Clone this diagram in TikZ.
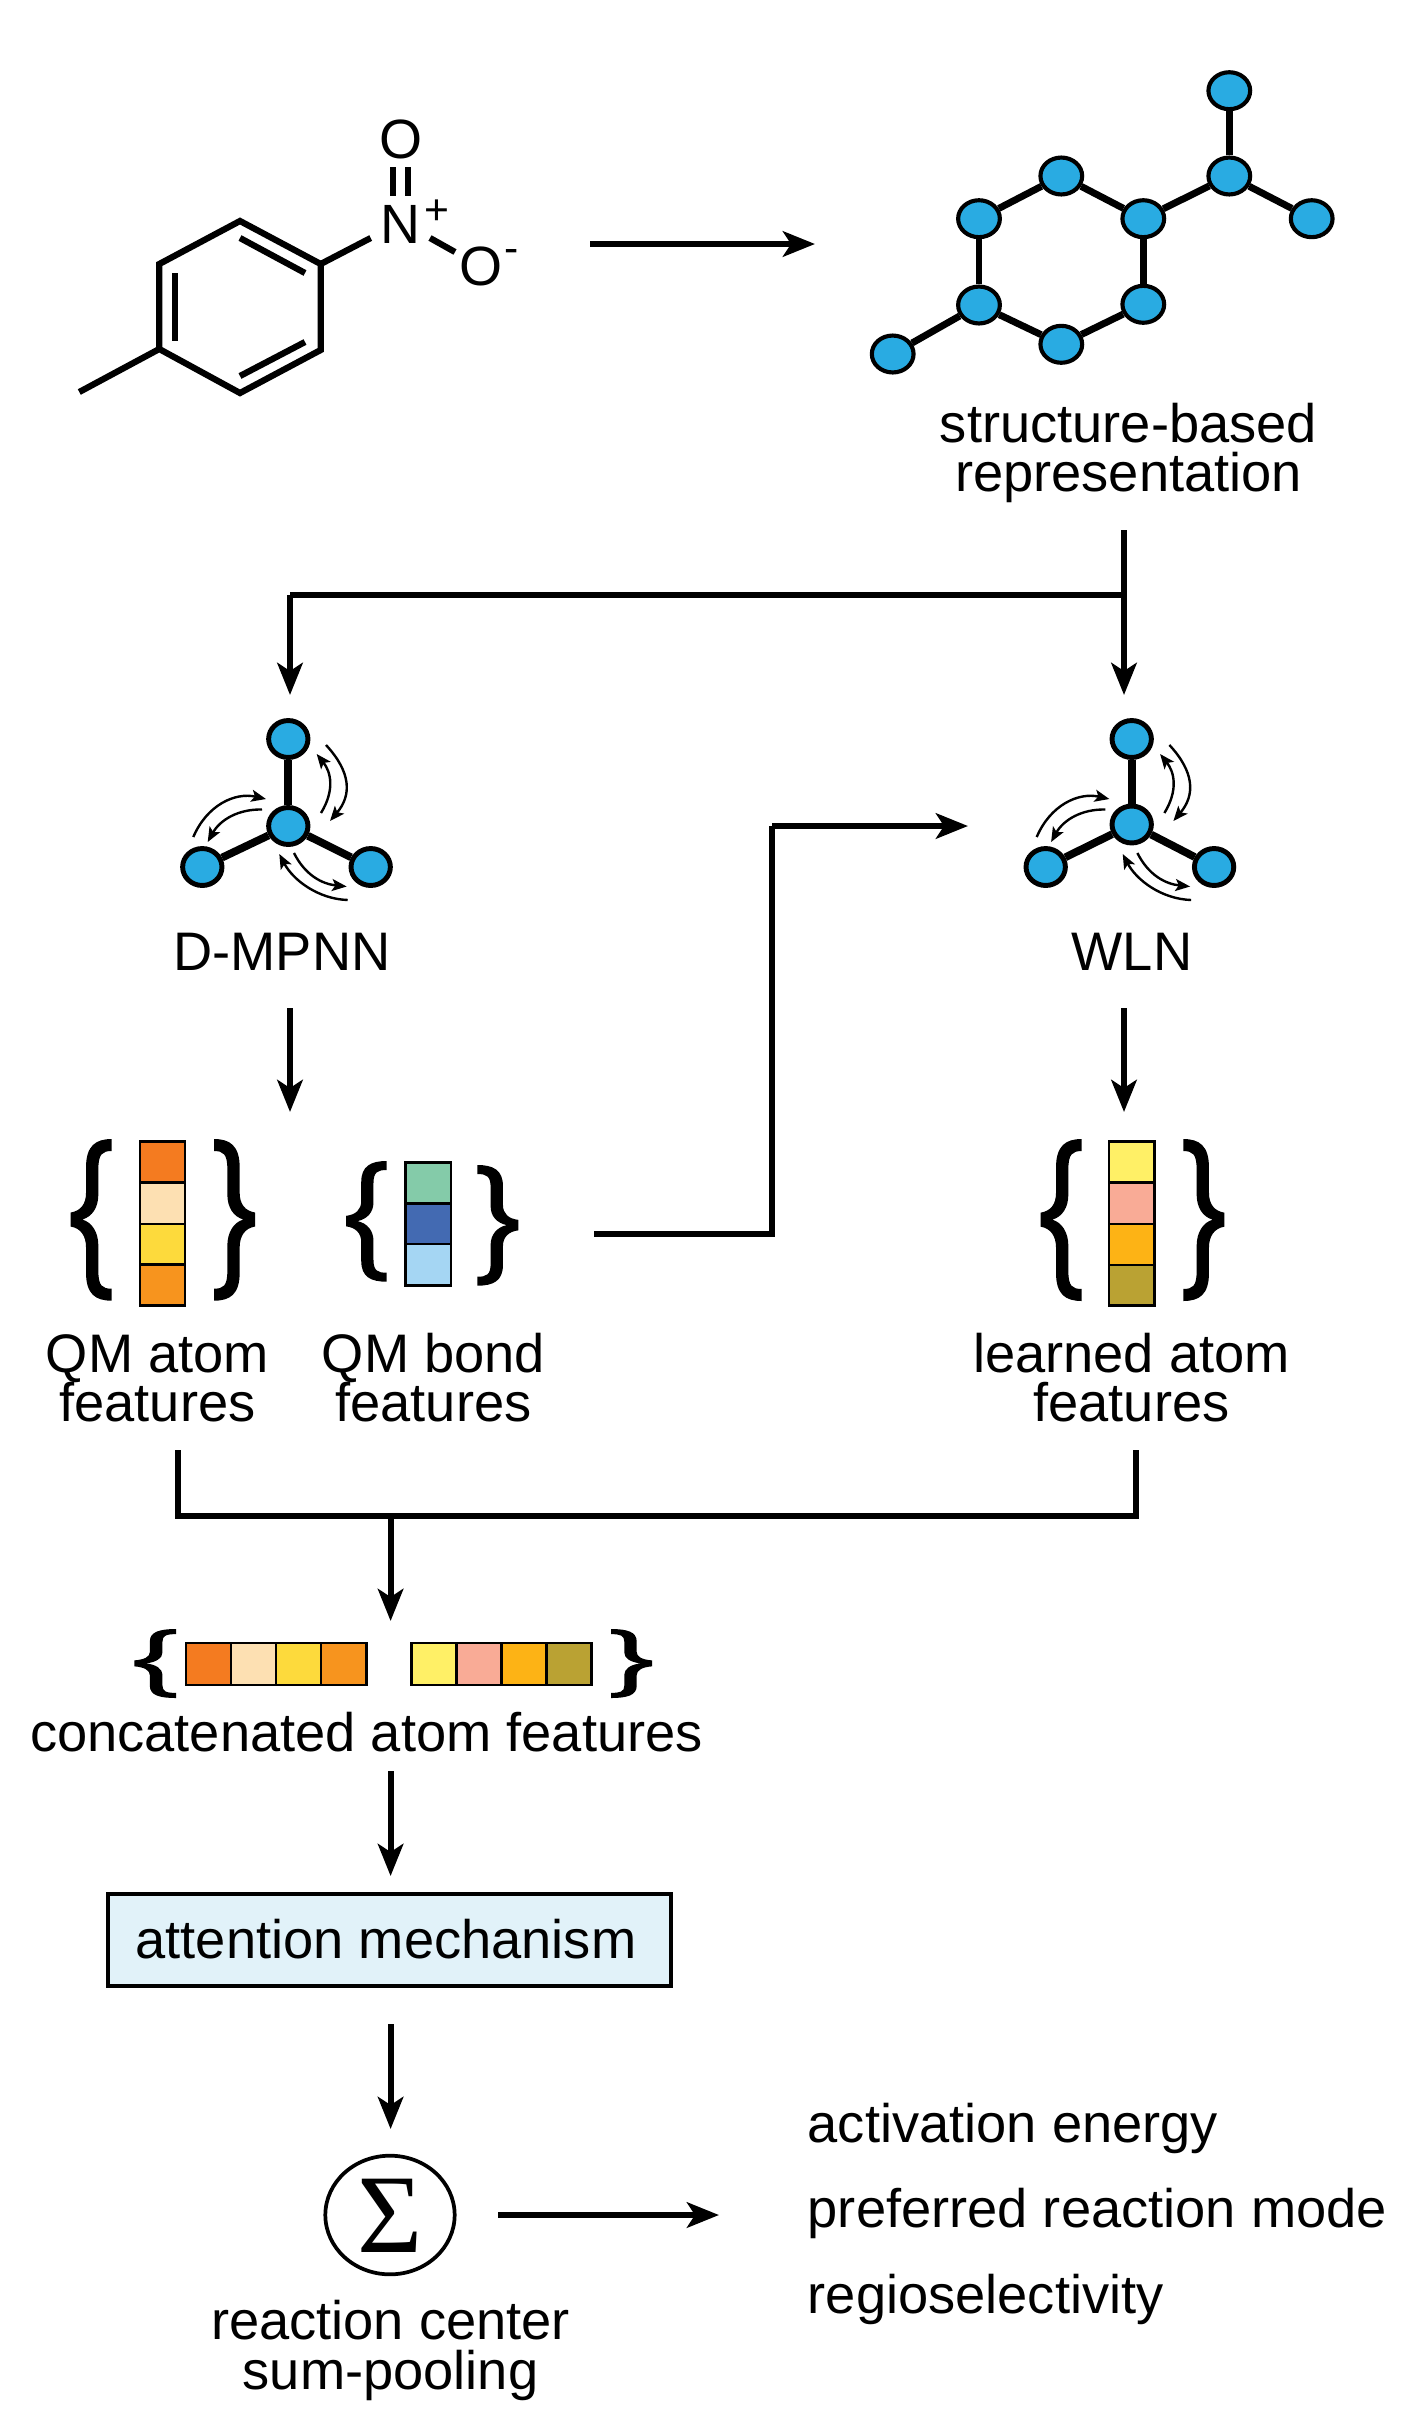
\documentclass[tikz,border=0pt]{standalone}
\usepackage{fontspec}
\setmainfont{Liberation Sans}
\newfontfamily\sigmafont{Liberation Serif}
\usetikzlibrary{arrows.meta,shapes.geometric}
\definecolor{atomblue}{HTML}{29ABE2}
\definecolor{qmA}{HTML}{F47B20}
\definecolor{qmB}{HTML}{FDE0B2}
\definecolor{qmC}{HTML}{FDDA3C}
\definecolor{qmD}{HTML}{F7941E}
\definecolor{qmE}{HTML}{84CBA9}
\definecolor{qmF}{HTML}{436AB2}
\definecolor{qmG}{HTML}{A5D6F3}
\definecolor{lnA}{HTML}{FFF066}
\definecolor{lnB}{HTML}{F9AB96}
\definecolor{lnC}{HTML}{FDB315}
\definecolor{lnD}{HTML}{BAA233}
\definecolor{boxblue}{HTML}{E1F2F9}
\tikzset{
  x=0.75pt, y=-0.75pt,
  atom/.style={ellipse, draw=black, fill=atomblue, line width=3.1pt, inner sep=0pt, minimum width=31.3pt, minimum height=27.7pt},
  miniatom/.style={atom, line width=3.7pt, minimum width=29.5pt, minimum height=27.7pt},
  bond/.style={line width=5.2pt},
  minibond/.style={line width=5.8pt},
  skeleton/.style={line width=4.7pt, line cap=butt},
  flow/.style={line width=4.6pt, -{Stealth[length=24pt,width=19pt,inset=6pt]}},
  flowline/.style={line width=4.6pt},
  swirl/.style={line width=1.8pt, -{Stealth[length=11pt,width=9pt,inset=2.5pt]}},
  label/.style={anchor=base, font=\fontsize{40.7pt}{45pt}\selectfont, inner sep=0pt},
  leftlabel/.style={label, anchor=base west},
  cell/.style={draw=black, line width=2.1pt},
}
% Curly brace outline in a 123 by 484 box
\newcommand{\braceglyph}{
  \fill (123,0) .. controls (75,0) and (46,20) .. (46,85) -- (46,160)
    .. controls (46,195) and (30,215) .. (0,220) -- (0,262)
    .. controls (30,267) and (46,290) .. (46,325) -- (46,400)
    .. controls (46,465) and (75,484) .. (123,484) -- (123,448)
    .. controls (95,448) and (83,440) .. (83,395) -- (83,320)
    .. controls (83,280) and (65,250) .. (35,241)
    .. controls (65,232) and (83,205) .. (83,165) -- (83,90)
    .. controls (83,45) and (95,36) .. (123,36) -- cycle;
}
% \lbraceat{left}{top}{width}{height} and \rbraceat mirror it
\newcommand{\lbraceat}[4]{\begin{scope}[shift={(#1,#2)},xscale=#3/123,yscale=#4/484]\braceglyph\end{scope}}
\newcommand{\rbraceat}[4]{\begin{scope}[shift={(#1,#2)},xscale=-#3/123,yscale=#4/484]\braceglyph\end{scope}}
% Three-atom message passing motif: \mpnn{prefix}{x offset}{centre atom y}
\newcommand{\mpnn}[3]{
  \begin{scope}[shift={(#2,0)}]
    \node[miniatom] (#1top) at (288.3,739) {};
    \node[miniatom] (#1mid) at (288.3,#3) {};
    \node[miniatom] (#1lft) at (202.3,867) {};
    \node[miniatom] (#1rgt) at (370.7,867) {};
    \draw[minibond] (#1mid) -- (#1top);
    \draw[minibond] (#1mid) -- (#1lft);
    \draw[minibond] (#1mid) -- (#1rgt);
    \draw[swirl] (321,813) .. controls (335,790) and (331,772) .. (316.7,754);
    \draw[swirl] (326,745) .. controls (351,772) and (352,795) .. (330,821);
    \draw[swirl] (193.3,837) .. controls (207,805) and (235,792) .. (266,799);
    \draw[swirl] (262,809.5) .. controls (238,809) and (220,820) .. (207.7,842);
    \draw[swirl] (294,853) .. controls (305,875) and (322,884) .. (346.7,886.5);
    \draw[swirl] (347.7,900) .. controls (318,899) and (293,880) .. (279.3,854);
  \end{scope}
}
\begin{document}
\begin{tikzpicture}
\useasboundingbox (0,0) rectangle (1413,2421);

% Nitrotoluene skeleton
\coordinate (r1) at (240,221);
\coordinate (r2) at (320.7,264);
\coordinate (r3) at (320.7,350);
\coordinate (r4) at (240,393);
\coordinate (r5) at (159.3,349);
\coordinate (r6) at (159.3,264);
\coordinate (me) at (79.3,392);
\draw[skeleton, line join=miter] (me) -- (r5) -- (r6) -- (r1) -- (r2) -- (r3) -- (r4) -- (r5);
\draw[skeleton] (240,238) -- (305,273);
\draw[skeleton] (175,273) -- (175,341);
\draw[skeleton] (240,376) -- (305,342);
\draw[skeleton] (r2) -- (370.7,238);
\draw[skeleton] (393.3,167) -- (393.3,196);
\draw[skeleton] (408.3,167) -- (408.3,196);
\draw[skeleton] (430,238) -- (455,252);
\node[label, font=\fontsize{41.5pt}{45pt}\selectfont] (nN) at (400.7,243) {N};
\node[label, font=\fontsize{41.5pt}{45pt}\selectfont] (nOa) at (400.7,158) {O};
\node[label, font=\fontsize{41.5pt}{45pt}\selectfont] (nOb) at (480.7,285) {O};
\node[label, font=\fontsize{32pt}{32pt}\selectfont] (nPlus) at (436.7,224) {+};
\node[label, font=\fontsize{32pt}{32pt}\selectfont] (nMinus) at (511.7,262) {-};

% Reaction arrow
\coordinate (rxA) at (590,244);
\coordinate (rxB) at (815,244);
\draw[flow] (rxA) -- (rxB);

% Atom graph
\node[atom] (g1) at (1229.3,90.7) {};
\node[atom] (g2) at (1229.3,176) {};
\node[atom] (g3) at (1311.7,218.7) {};
\node[atom] (g4) at (1143.3,218.7) {};
\node[atom] (g5) at (1061.3,176) {};
\node[atom] (g6) at (979,218.7) {};
\node[atom] (g7) at (979,305) {};
\node[atom] (g8) at (1061.3,344.3) {};
\node[atom] (g9) at (1143.3,304.3) {};
\node[atom] (g10) at (892.7,354) {};
\foreach \a/\b in {g1/g2,g2/g3,g2/g4,g4/g5,g5/g6,g6/g7,g7/g8,g8/g9,g9/g4,g7/g10}
  \draw[bond] (\a) -- (\b);
\node[label] (tStructA) at (1128.5,442) {structure-based};
\node[label] (tStructB) at (1128.5,491) {representation};

% Split into the two networks
\coordinate (spS) at (1124,530);
\coordinate (spJ) at (1124,595);
\coordinate (spL) at (290,595);
\coordinate (spLe) at (290,695);
\coordinate (spRe) at (1124,695);
\draw[flowline] (spJ) -- (spL);
\draw[flow] (spL) -- (spLe);
\draw[flow] (spS) -- (spRe);

% Networks
\mpnn{d}{0}{826}
\mpnn{w}{843.4}{824.5}
\node[label] (tD) at (282,970) {D-MPNN};
\node[label] (tW) at (1132,970) {WLN};
\coordinate (dA) at (290,1008);
\coordinate (dB) at (290,1112);
\coordinate (wA) at (1124,1008);
\coordinate (wB) at (1124,1112);
\draw[flow] (dA) -- (dB);
\draw[flow] (wA) -- (wB);

% QM atom features
\lbraceat{70.7}{1139}{41}{161.7}
\rbraceat{255}{1139}{41}{161.7}
\draw[cell, fill=qmA] (140,1141.7) rectangle (185,1182.7);
\draw[cell, fill=qmB] (140,1182.7) rectangle (185,1224);
\draw[cell, fill=qmC] (140,1224) rectangle (185,1264.7);
\draw[cell, fill=qmD] (140,1264.7) rectangle (185,1305.3);
\node[label] (tQa1) at (157.5,1372.5) {QM atom};
\node[label] (tQa2) at (157.5,1421.5) {features};

% QM bond features
\lbraceat{346}{1161}{40.7}{120.7}
\rbraceat{518.3}{1165}{41}{120.7}
\draw[cell, fill=qmE] (405.3,1162.3) rectangle (451,1203.3);
\draw[cell, fill=qmF] (405.3,1203.3) rectangle (451,1244);
\draw[cell, fill=qmG] (405.3,1244) rectangle (451,1285.3);
\node[label] (tQb1) at (433.5,1372.5) {QM bond};
\node[label] (tQb2) at (433.5,1421.5) {features};

% QM bond features feed the WLN
\coordinate (bA) at (594,1234);
\coordinate (bB) at (772,1234);
\coordinate (bC) at (772,826);
\coordinate (bD) at (968,826);
\draw[flowline] (bA) -- (bB) -- (bC);
\draw[flow] (bC) -- (bD);

% Learned atom features
\lbraceat{1040.7}{1139}{41}{162}
\rbraceat{1224.3}{1139}{41}{162}
\draw[cell, fill=lnA] (1109,1141.7) rectangle (1154.3,1182.7);
\draw[cell, fill=lnB] (1109,1182.7) rectangle (1154.3,1224);
\draw[cell, fill=lnC] (1109,1224) rectangle (1154.3,1265);
\draw[cell, fill=lnD] (1109,1265) rectangle (1154.3,1305.7);
\node[label] (tL1) at (1131.5,1372.5) {learned atom};
\node[label] (tL2) at (1131.5,1421.5) {features};

% Merge into the concatenated vector
\coordinate (mA) at (178,1450);
\coordinate (mB) at (178,1516);
\coordinate (mC) at (1136,1516);
\coordinate (mD) at (1136,1450);
\coordinate (mJ) at (390.6,1516);
\coordinate (mE) at (390.6,1621);
\draw[flowline] (mA) -- (mB) -- (mC) -- (mD);
\draw[flow] (mJ) -- (mE);

% Concatenated atom features
\lbraceat{134.3}{1629}{41.7}{69}
\rbraceat{652}{1629}{41}{69}
\draw[cell, fill=qmA] (186,1643) rectangle (231,1685);
\draw[cell, fill=qmB] (231,1643) rectangle (276,1685);
\draw[cell, fill=qmC] (276,1643) rectangle (321,1685);
\draw[cell, fill=qmD] (321,1643) rectangle (366.4,1685);
\draw[cell, fill=lnA] (411.4,1643) rectangle (456.4,1685);
\draw[cell, fill=lnB] (456.4,1643) rectangle (501.4,1685);
\draw[cell, fill=lnC] (501.4,1643) rectangle (546.8,1685);
\draw[cell, fill=lnD] (546.8,1643) rectangle (591.4,1685);
\node[label] (tC) at (366.5,1751) {concatenated atom features};

% Attention
\coordinate (cA) at (390.6,1771);
\coordinate (cB) at (390.6,1876);
\draw[flow] (cA) -- (cB);
\node[draw=black, fill=boxblue, line width=3pt, minimum width=422.5pt, minimum height=69pt, inner sep=0pt] (attn) at (389.5,1939.5) {};
\node[label] (tAttn) at (386,1958) {attention mechanism};
\coordinate (aA) at (390.6,2024);
\coordinate (aB) at (390.6,2129);
\draw[flow] (aA) -- (aB);

% Sum pooling
\node[ellipse, draw=black, line width=2.8pt, minimum width=97pt, minimum height=89pt, inner sep=0pt] (sum) at (390,2215) {};
\node[anchor=base, inner sep=0pt, font=\sigmafont\fontsize{84pt}{84pt}\selectfont] (tSigma) at (390,2252) {Σ};
\node[label] (tS1) at (390.6,2339) {reaction center};
\node[label] (tS2) at (390.6,2389) {sum-pooling};
\coordinate (sA) at (498,2215);
\coordinate (sB) at (719,2215);
\draw[flow] (sA) -- (sB);

% Predicted properties
\node[leftlabel] (tP1) at (807.5,2142) {activation energy};
\node[leftlabel] (tP2) at (807.5,2227.5) {preferred reaction mode};
\node[leftlabel] (tP3) at (807.5,2313.5) {regioselectivity};
\end{tikzpicture}
\end{document}
